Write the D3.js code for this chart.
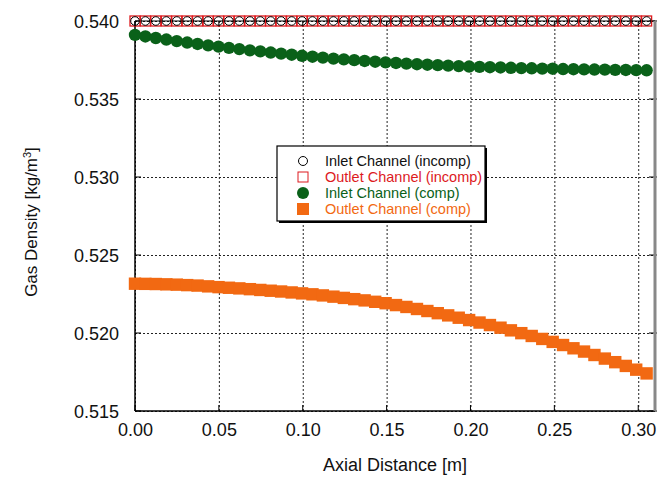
<!DOCTYPE html>
<html>
<head>
<meta charset="utf-8">
<script src="https://cdn.jsdelivr.net/npm/d3@7"></script>
<style>
  html, body { margin: 0; padding: 0; background: #fff; overflow: hidden; }
  svg { display: block; }
  text { font-family: "Liberation Sans", Arial, sans-serif; }
</style>
</head>
<body>
<svg></svg>
<script>
// axial positions [m]
const xs = [0, 0.0062, 0.0124, 0.0187, 0.0249, 0.0311, 0.0373, 0.0436, 0.0498, 0.0560,
  0.0622, 0.0685, 0.0747, 0.0809, 0.0871, 0.0934, 0.0996, 0.1058, 0.1120, 0.1183,
  0.1245, 0.1307, 0.1369, 0.1432, 0.1494, 0.1556, 0.1618, 0.1681, 0.1743, 0.1805,
  0.1867, 0.1930, 0.1992, 0.2054, 0.2116, 0.2179, 0.2241, 0.2303, 0.2365, 0.2428,
  0.2490, 0.2552, 0.2614, 0.2677, 0.2739, 0.2801, 0.2863, 0.2926, 0.2988, 0.3050]

const inletIncomp = xs.map(() => 0.540)   // flat, both incompressible curves sit on 0.540
const outletIncomp = xs.map(() => 0.540)

const inletComp = [0.53911, 0.53901, 0.53891, 0.53881, 0.53871, 0.53862, 0.53853, 0.53844, 0.53836, 0.53828,
  0.53820, 0.53812, 0.53805, 0.53798, 0.53791, 0.53784, 0.53777, 0.53771, 0.53765, 0.53759,
  0.53754, 0.53749, 0.53744, 0.53739, 0.53735, 0.53731, 0.53727, 0.53723, 0.53720, 0.53717,
  0.53714, 0.53711, 0.53708, 0.53706, 0.53704, 0.53702, 0.53700, 0.53698, 0.53697, 0.53695,
  0.53694, 0.53692, 0.53691, 0.53690, 0.53689, 0.53688, 0.53687, 0.53686, 0.53685, 0.53684]

const outletComp = [0.52316, 0.52315, 0.52314, 0.52312, 0.52310, 0.52307, 0.52304, 0.52299, 0.52294, 0.52290,
  0.52286, 0.52281, 0.52276, 0.52271, 0.52266, 0.52260, 0.52254, 0.52248, 0.52241, 0.52233,
  0.52225, 0.52217, 0.52209, 0.52200, 0.52191, 0.52179, 0.52167, 0.52154, 0.52141, 0.52127,
  0.52113, 0.52098, 0.52083, 0.52067, 0.52051, 0.52034, 0.52017, 0.51999, 0.51981, 0.51962,
  0.51943, 0.51923, 0.51902, 0.51881, 0.51859, 0.51836, 0.51813, 0.51789, 0.51765, 0.51741]

const xTicks = [0, 0.05, 0.10, 0.15, 0.20, 0.25, 0.30]
const yTicks = [0.515, 0.520, 0.525, 0.530, 0.535, 0.540]
const legendLabels = ['Inlet Channel (incomp)', 'Outlet Channel (incomp)', 'Inlet Channel (comp)', 'Outlet Channel (comp)']

const w = 658
const h = 478
const margin = {top: 21, right: 3, bottom: 67, left: 135}
const innerWidth = w - margin.left - margin.right   // 520
const innerHeight = h - margin.top - margin.bottom  // 390

const green = '#0a6119'
const orange = '#f26912'
const red = '#dd1a1e'

const svg = d3.select('svg')
  .attr('width', w)
  .attr('height', h);

const xScale = d3.scaleLinear()
  .domain([0, 0.31])
  .range([0, innerWidth])

const yScale = d3.scaleLinear()
  .domain([0.515, 0.540])
  .range([innerHeight, 0])

const g = svg.append('g')
  .attr('transform', `translate(${margin.left}, ${margin.top})`);

// dotted grid
const xAxisG = g.append('g')
  .attr('transform', `translate(0, ${innerHeight})`)
  .call(d3.axisBottom(xScale).tickValues(xTicks).tickFormat(d3.format('.2f')).tickSize(-innerHeight).tickPadding(12))
xAxisG.select('.domain').remove()
xAxisG.selectAll('line')
  .attr('stroke', '#222')
  .attr('stroke-dasharray', '2,2')
xAxisG.selectAll('text')
  .attr('font-size', '18px')
  .attr('fill', '#111')

const yAxisG = g.append('g')
  .call(d3.axisLeft(yScale).tickValues(yTicks).tickFormat(d3.format('.3f')).tickSize(-innerWidth).tickPadding(16))
yAxisG.select('.domain').remove()
yAxisG.selectAll('line')
  .attr('stroke', '#222')
  .attr('stroke-dasharray', '2,2')
yAxisG.selectAll('text')
  .attr('font-size', '18px')
  .attr('fill', '#111')
  .attr('dy', '0.36em')

// small inside ticks on every side
xTicks.forEach(t => {
  g.append('line').attr('x1', xScale(t)).attr('x2', xScale(t)).attr('y1', 0).attr('y2', 6).attr('stroke', '#000')
  g.append('line').attr('x1', xScale(t)).attr('x2', xScale(t)).attr('y1', innerHeight).attr('y2', innerHeight - 6).attr('stroke', '#000')
})
yTicks.forEach(t => {
  g.append('line').attr('x1', 0).attr('x2', 6).attr('y1', yScale(t)).attr('y2', yScale(t)).attr('stroke', '#000')
  g.append('line').attr('x1', innerWidth + 2).attr('x2', innerWidth - 6).attr('y1', yScale(t)).attr('y2', yScale(t)).attr('stroke', '#000')
})

// frame
g.append('line').attr('x1', 0).attr('x2', innerWidth).attr('y1', 0).attr('y2', 0).attr('stroke', '#000')
g.append('line').attr('x1', 0).attr('x2', innerWidth).attr('y1', innerHeight).attr('y2', innerHeight).attr('stroke', '#000').attr('stroke-width', 1.5)
g.append('line').attr('x1', 0).attr('x2', 0).attr('y1', 0).attr('y2', innerHeight).attr('stroke', '#000').attr('stroke-width', 1.5)
g.append('line').attr('x1', innerWidth).attr('x2', innerWidth).attr('y1', 0).attr('y2', innerHeight).attr('stroke', '#888').attr('stroke-width', 3)

// series
const pts = vals => vals.map((v, i) => ({x: xs[i], y: v}))

g.selectAll('rect.outInc').data(pts(outletIncomp))
  .enter().append('rect')
  .attr('class', 'outInc')
  .attr('x', d => xScale(d.x) - 5)
  .attr('y', d => yScale(d.y) - 5)
  .attr('width', 10)
  .attr('height', 10)
  .attr('fill', 'none')
  .attr('stroke', red)
  .attr('stroke-width', 1.3)

g.selectAll('circle.inInc').data(pts(inletIncomp))
  .enter().append('circle')
  .attr('class', 'inInc')
  .attr('cx', d => xScale(d.x))
  .attr('cy', d => yScale(d.y))
  .attr('r', 4.3)
  .attr('fill', 'none')
  .attr('stroke', '#000')

g.selectAll('circle.inComp').data(pts(inletComp))
  .enter().append('circle')
  .attr('class', 'inComp')
  .attr('cx', d => xScale(d.x))
  .attr('cy', d => yScale(d.y))
  .attr('r', 6.2)
  .attr('fill', green)

g.selectAll('rect.outComp').data(pts(outletComp))
  .enter().append('rect')
  .attr('class', 'outComp')
  .attr('x', d => xScale(d.x) - 6.2)
  .attr('y', d => yScale(d.y) - 6.2)
  .attr('width', 12.4)
  .attr('height', 12.4)
  .attr('fill', orange)

// legend
const lg = svg.append('g').attr('transform', 'translate(277, 146)')
lg.append('rect').attr('x', 2).attr('y', 2).attr('width', 208).attr('height', 75).attr('fill', '#000')
lg.append('rect').attr('width', 208).attr('height', 75).attr('fill', '#fff').attr('stroke', '#000').attr('stroke-width', 1.2)

const legendColors = ['#111', red, green, orange]
legendLabels.forEach((label, i) => {
  const cy = 15 + i * 16
  if (i === 0) lg.append('circle').attr('cx', 26).attr('cy', cy).attr('r', 4.5).attr('fill', 'none').attr('stroke', '#000')
  if (i === 1) lg.append('rect').attr('x', 21).attr('y', cy - 5).attr('width', 10).attr('height', 10).attr('fill', 'none').attr('stroke', red)
  if (i === 2) lg.append('circle').attr('cx', 26).attr('cy', cy).attr('r', 6).attr('fill', green)
  if (i === 3) lg.append('rect').attr('x', 20).attr('y', cy - 6).attr('width', 12).attr('height', 12).attr('fill', orange)
  lg.append('text')
    .attr('x', 48)
    .attr('y', cy + 5)
    .attr('font-size', '14.5px')
    .attr('fill', legendColors[i])
    .text(label)
})

// axis titles
svg.append('text')
  .attr('x', 395)
  .attr('y', 471)
  .attr('text-anchor', 'middle')
  .attr('font-size', '18px')
  .attr('fill', '#111')
  .text('Axial Distance [m]')

const yl = svg.append('text')
  .attr('transform', 'translate(37, 222) rotate(-90)')
  .attr('text-anchor', 'middle')
  .attr('font-size', '17px')
  .attr('fill', '#111')
yl.append('tspan').text('Gas Density [kg/m')
yl.append('tspan').attr('baseline-shift', 'super').attr('font-size', '11px').text('3')
yl.append('tspan').text(']')
</script>
</body>
</html>
